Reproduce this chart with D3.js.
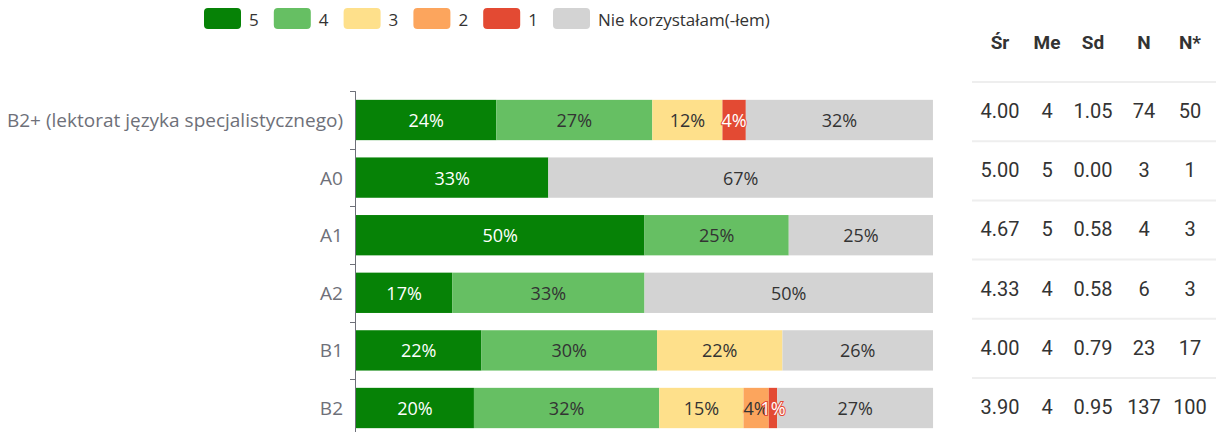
<!DOCTYPE html>
<html>
<head>
<meta charset="utf-8">
<script src="https://cdn.jsdelivr.net/npm/d3@7/dist/d3.min.js"></script>
<style>
  html, body { margin: 0; padding: 0; background: #fff; }
  svg { display: block; }
</style>
</head>
<body>
<svg id="chart" width="1216" height="432"></svg>
<script>
// Language levels (rows of the chart)
const categories = [
  "B2+ (lektorat języka specjalistycznego)",
  "A0", "A1", "A2", "B1", "B2"
];

// Share of answers per rating, in percent of all respondents
const pct5    = [24.32, 33.33, 50.00, 16.67, 21.74, 20.44];
const pct4    = [27.03,  0.00, 25.00, 33.33, 30.43, 32.12];
const pct3    = [12.16,  0.00,  0.00,  0.00, 21.74, 14.60];
const pct2    = [ 0.00,  0.00,  0.00,  0.00,  0.00,  4.38];
const pct1    = [ 4.05,  0.00,  0.00,  0.00,  0.00,  1.46];
const pctNone = [32.43, 66.67, 25.00, 50.00, 26.09, 27.01];

// Summary statistics per row
const statHeaders = ["Śr", "Me", "Sd", "N", "N*"];
const statMean   = ["4.00", "5.00", "4.67", "4.33", "4.00", "3.90"];
const statMedian = ["4", "5", "5", "4", "4", "4"];
const statSd     = ["1.05", "0.00", "0.58", "0.58", "0.79", "0.95"];
const statN      = ["74", "3", "4", "6", "23", "137"];
const statNStar  = ["50", "1", "3", "3", "17", "100"];

const seriesNames = ["5", "4", "3", "2", "1", "Nie korzystałam(-łem)"];
const seriesValues = [pct5, pct4, pct3, pct2, pct1, pctNone];
const seriesColors = ["#068206", "#66bf63", "#fee08b", "#fca55d", "#e34a33", "#d3d3d3"];
const labelColors  = ["#ffffff", "#333333", "#333333", "#333333", "#ffffff", "#333333"];

const svg = d3.select("#chart");
const chartFont = "'Open Sans', sans-serif";
const tableFont = "Roboto, sans-serif";

// Build stacked rows
const rows = categories.map((c, i) => {
  const r = { category: c };
  seriesNames.forEach((s, k) => { r[s] = seriesValues[k][i]; });
  return r;
});
const stacked = d3.stack().keys(seriesNames)(rows);

const x = d3.scaleLinear().domain([0, 100]).range([356, 933]);
const y = d3.scaleBand().domain(categories)
  .range([91.2, 436.8]).paddingInner(0.3).paddingOuter(0.15);

// Bars
const layers = svg.append("g").selectAll("g").data(stacked).join("g")
  .attr("fill", (d, k) => seriesColors[k]);

layers.selectAll("rect").data(d => d).join("rect")
  .attr("x", d => x(d[0]))
  .attr("y", d => y(d.data.category))
  .attr("width", d => Math.max(0, x(d[1]) - x(d[0])))
  .attr("height", y.bandwidth());

// Segment labels
const labelLayers = svg.append("g").selectAll("g").data(stacked).join("g");
labelLayers.each(function (layer, k) {
  d3.select(this).selectAll("text")
    .data(layer.filter(d => d[1] - d[0] > 0))
    .join("text")
    .attr("x", d => (x(d[0]) + x(d[1])) / 2)
    .attr("y", d => y(d.data.category) + y.bandwidth() / 2)
    .attr("text-anchor", "middle")
    .attr("dominant-baseline", "central")
    .attr("font-family", chartFont)
    .attr("font-size", 18)
    .attr("fill", labelColors[k])
    .attr("stroke", seriesColors[k])
    .attr("stroke-width", 2)
    .attr("paint-order", "stroke")
    .text(d => Math.round(d[1] - d[0]) + "%");
});

// Category axis with ticks at the band boundaries
const axisColor = "#6e7079";
const axisG = svg.append("g");
axisG.append("line")
  .attr("x1", 355.5).attr("x2", 355.5)
  .attr("y1", y.range()[0]).attr("y2", y.range()[1])
  .attr("stroke", axisColor).attr("stroke-width", 1);
axisG.selectAll("line.tick").data(categories).join("line")
  .attr("class", "tick")
  .attr("x1", 350).attr("x2", 355.5)
  .attr("y1", d => Math.round(y(d) - y.step() * y.paddingOuter()) + 0.5)
  .attr("y2", d => Math.round(y(d) - y.step() * y.paddingOuter()) + 0.5)
  .attr("stroke", axisColor);
axisG.selectAll("text").data(categories).join("text")
  .attr("x", 343)
  .attr("y", d => y(d) + y.bandwidth() / 2)
  .attr("text-anchor", "end")
  .attr("dominant-baseline", "central")
  .attr("font-family", chartFont)
  .attr("font-size", 19)
  .attr("fill", "#6e7079")
  .text(d => d);

// Legend
const legend = svg.append("g");
const legendItems = legend.selectAll("g").data(seriesNames).join("g")
  .attr("transform", (d, k) => `translate(${204 + k * 69.8},8)`);
legendItems.append("rect")
  .attr("width", 37).attr("height", 21).attr("rx", 4)
  .attr("fill", (d, k) => seriesColors[k]);
legendItems.append("text")
  .attr("x", 45).attr("y", 11)
  .attr("dominant-baseline", "central")
  .attr("font-family", chartFont)
  .attr("font-size", 17)
  .attr("fill", "#333")
  .text(d => d);

// Statistics table
const colX = [1000, 1047, 1093, 1144, 1190];
const statCols = [statMean, statMedian, statSd, statN, statNStar];
const table = svg.append("g");
table.selectAll("text.head").data(statHeaders).join("text")
  .attr("class", "head")
  .attr("x", (d, j) => colX[j]).attr("y", 42)
  .attr("text-anchor", "middle").attr("dominant-baseline", "central")
  .attr("font-family", tableFont).attr("font-weight", "bold")
  .attr("font-size", 19).attr("fill", "#333")
  .text(d => d);

const rowTop = i => 82 + i * 59.2;
table.selectAll("line.sep").data(categories).join("line")
  .attr("class", "sep")
  .attr("x1", 972).attr("x2", 1216)
  .attr("y1", (d, i) => rowTop(i)).attr("y2", (d, i) => rowTop(i))
  .attr("stroke", "#eeeeee").attr("stroke-width", 2);

categories.forEach((c, i) => {
  table.selectAll(null).data(statCols).join("text")
    .attr("x", (col, j) => colX[j])
    .attr("y", rowTop(i) + 29)
    .attr("text-anchor", "middle").attr("dominant-baseline", "central")
    .attr("font-family", tableFont)
    .attr("font-size", 20).attr("fill", "#333")
    .text(col => col[i]);
});
</script>
</body>
</html>
